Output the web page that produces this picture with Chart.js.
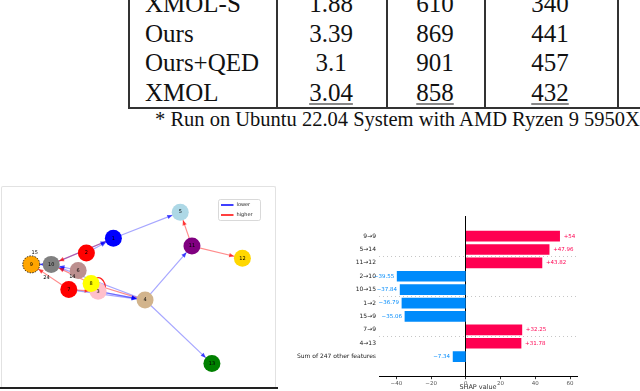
<!DOCTYPE html>
<html>
<head>
<meta charset="utf-8">
<script src="https://cdn.jsdelivr.net/npm/chart.js@4.4.0/dist/chart.umd.min.js"></script>
<style>
  html, body { margin: 0; padding: 0; background: #fff; }
  body { width: 640px; height: 391px; overflow: hidden; position: relative; font-family: 'Liberation Serif', 'Times New Roman', serif; color: #111; }
  .vline { position: absolute; top: -20px; height: 129px; width: 1.5px; background: #333; }
  .hline { position: absolute; left: 128px; width: 520px; top: 107px; height: 1.5px; background: #333; }
  .cell { position: absolute; font-size: 25px; line-height: 25px; white-space: nowrap; transform: translateY(-50%); }
  .ctr { transform: translate(-50%, -50%); }
  .ul { text-decoration: underline; text-decoration-thickness: 1px; text-underline-offset: 3px; }
  #note { position: absolute; left: 155px; top: 108px; font-size: 20.5px; white-space: nowrap; }
  #frame { position: absolute; left: 1px; top: 186px; width: 273px; height: 201px; border: 1px solid #e2e2e2; border-bottom: none; border-radius: 2px; }
  #base { position: absolute; left: 0; top: 387px; width: 278px; height: 2px; background: #222; }
  #graph { position: absolute; left: 0; top: 186px; }
  #shap { position: absolute; left: 290px; top: 196px; }
</style>
</head>
<body>
<div id="table"></div>
<div id="note">* Run on Ubuntu 22.04 System with AMD Ryzen 9 5950X</div>
<div id="frame"></div>
<div id="base"></div>
<canvas id="graph" width="276" height="202"></canvas>
<canvas id="shap" width="350" height="195"></canvas>
<script>
// table rows (top of table is cut off in the figure)
const methods = ['XMOL-S', 'Ours', 'Ours+QED', 'XMOL'];
const colTime = ['1.88', '3.39', '3.1', '3.04'];
const colB = ['610', '869', '901', '858'];
const colC = ['340', '441', '457', '432'];
const underlined = [false, false, false, true];

// SHAP bar chart
const featureLabels = ['9→9', '5→14', '11→12', '2→10', '10→15', '1→2', '15→9', '7→9', '4→13', 'Sum of 247 other features'];
const shapValues = [54, 47.96, 43.82, -39.55, -37.84, -36.79, -35.06, 32.25, 31.78, -7.34];
const shapTicks = [-40, -20, 0, 20, 40, 60];
const dottedRows = [2, 5, 8];

// graph: node layout positions
const nodeIds = ['1', '2', '3', '4', '5', '6', '7', '8', '9', '10', '11', '12', '13'];
const nodeX = [-0.21, -0.44, -0.34, 0.06, 0.36, -0.51, -0.59, -0.40, -0.91, -0.74, 0.46, 0.89, 0.63];
const nodeY = [0.56, 0.39, -0.05, -0.15, 0.86, 0.19, -0.03, 0.04, 0.26, 0.26, 0.47, 0.33, -0.88];
const nodeColors = ['blue', 'red', 'pink', 'tan', 'lightblue', 'rosybrown', 'red', 'yellow', 'orange', 'gray', 'purple', 'gold', 'green'];
const textIds = ['15', '24', '14'];
const textX = [-0.88, -0.78, -0.56];
const textY = [0.39, 0.105, 0.116];
const lowerEdges = [[1, 5], [4, 11], [4, 13], [2, 1], [10, 1], [6, 10], [10, 9], [3, 4], [3, 4], [7, 4], [4, 10], [8, 3]];
const higherEdges = [[11, 5], [11, 12], [1, 10], [7, 9], [4, 8], [8, 8], [8, 10], [7, 3]];

// ---- table ----
(() => {
  const t = document.getElementById('table');
  [128, 276, 386, 484, 617].forEach(x => {
    const d = document.createElement('div');
    d.className = 'vline';
    d.style.left = x + 'px';
    t.appendChild(d);
  });
  const h = document.createElement('div');
  h.className = 'hline';
  t.appendChild(h);
  const rowY = [3, 32.5, 62, 91.5];
  const centers = [331, 435, 550];
  methods.forEach((m, i) => {
    const a = document.createElement('div');
    a.className = 'cell';
    a.style.left = '145px';
    a.style.top = rowY[i] + 'px';
    a.textContent = m;
    t.appendChild(a);
    [colTime[i], colB[i], colC[i]].forEach((v, j) => {
      const c = document.createElement('div');
      c.className = 'cell ctr' + (underlined[i] ? ' ul' : '');
      c.style.left = centers[j] + 'px';
      c.style.top = rowY[i] + 'px';
      c.textContent = v;
      t.appendChild(c);
    });
  });
})();

Chart.defaults.font.family = "'DejaVu Sans', sans-serif";

// ---- graph ----
const R = 8.5;
const nodeRGB = { lower: '0,0,255', higher: '255,0,0' };

const arrowPlugin = {
  id: 'arrows',
  beforeDatasetDraw(chart, args) {
    if (args.index !== 0) return;
    const { ctx, scales: { x, y } } = chart;
    ctx.save();
    const run = (edges, rgb) => {
      edges.forEach(([a, b]) => {
        const x1 = x.getPixelForValue(nodeX[a - 1]), y1 = y.getPixelForValue(nodeY[a - 1]);
        const x2 = x.getPixelForValue(nodeX[b - 1]), y2 = y.getPixelForValue(nodeY[b - 1]);
        if (a === b) {
          ctx.strokeStyle = 'rgba(' + rgb + ',0.85)';
          ctx.lineWidth = 1.3;
          ctx.beginPath();
          ctx.ellipse(x1 + 8, y1 + 2, 6, 8, -0.3, 0, Math.PI * 2);
          ctx.stroke();
          return;
        }
        const ang = Math.atan2(y2 - y1, x2 - x1);
        const tx = x2 - Math.cos(ang) * R, ty = y2 - Math.sin(ang) * R;
        const L = 5, W = 2.2;
        ctx.fillStyle = 'rgba(' + rgb + ',0.7)';
        ctx.beginPath();
        ctx.moveTo(tx, ty);
        ctx.lineTo(tx - L * Math.cos(ang) + W * Math.sin(ang), ty - L * Math.sin(ang) - W * Math.cos(ang));
        ctx.lineTo(tx - L * Math.cos(ang) - W * Math.sin(ang), ty - L * Math.sin(ang) + W * Math.cos(ang));
        ctx.closePath();
        ctx.fill();
      });
    };
    run(lowerEdges, nodeRGB.lower);
    run(higherEdges, nodeRGB.higher);
    ctx.restore();
  },
  afterDatasetsDraw(chart) {
    const { ctx, scales: { x, y } } = chart;
    ctx.save();
    ctx.font = "5px 'DejaVu Sans'";
    ctx.textAlign = 'center';
    ctx.textBaseline = 'middle';
    ctx.fillStyle = '#000';
    nodeIds.forEach((id, i) => {
      const px = x.getPixelForValue(nodeX[i]), py = y.getPixelForValue(nodeY[i]);
      ctx.fillText(id, px, py);
      if (id === '9') {
        ctx.setLineDash([1.5, 1.2]);
        ctx.strokeStyle = '#000';
        ctx.lineWidth = 0.8;
        ctx.beginPath();
        ctx.arc(px, py, R, 0, Math.PI * 2);
        ctx.stroke();
        ctx.setLineDash([]);
      }
    });
    textIds.forEach((id, i) => {
      ctx.fillText(id, x.getPixelForValue(textX[i]), y.getPixelForValue(textY[i]));
    });
    // legend box
    const lx = chart.chartArea.right - 49, ly = chart.chartArea.top + 5;
    ctx.fillStyle = 'rgba(255,255,255,0.85)';
    ctx.strokeStyle = '#cfcfcf';
    ctx.lineWidth = 0.8;
    ctx.beginPath();
    ctx.roundRect(lx, ly, 42, 21, 2);
    ctx.fill();
    ctx.stroke();
    [['lower', '#0000ff'], ['higher', '#ff0000']].forEach(([t, c], k) => {
      const yy = ly + 5.5 + k * 10;
      ctx.strokeStyle = c;
      ctx.lineWidth = 1.5;
      ctx.beginPath();
      ctx.moveTo(lx + 2.5, yy);
      ctx.lineTo(lx + 15, yy);
      ctx.stroke();
      ctx.fillStyle = '#222';
      ctx.textAlign = 'left';
      ctx.fillText(t, lx + 18, yy);
    });
    ctx.restore();
  }
};

const edgeSet = (edges, label, rgb) => edges.filter(([a, b]) => a !== b).map(([a, b]) => ({
  type: 'scatter',
  label,
  data: [{ x: nodeX[a - 1], y: nodeY[a - 1] }, { x: nodeX[b - 1], y: nodeY[b - 1] }],
  showLine: true,
  borderColor: 'rgba(' + rgb + ',' + (label === 'lower' ? 0.35 : 0.45) + ')',
  borderWidth: 1.2,
  pointRadius: 0
}));

new Chart(document.getElementById('graph'), {
  type: 'scatter',
  data: {
    datasets: [
      {
        label: 'nodes',
        data: nodeX.map((v, i) => ({ x: v, y: nodeY[i] })),
        pointRadius: R,
        pointBackgroundColor: nodeColors,
        pointBorderWidth: 0
      },
      {
        label: 'text',
        data: textX.map((v, i) => ({ x: v, y: textY[i] })),
        pointRadius: 0
      },
      ...edgeSet(lowerEdges, 'lower', nodeRGB.lower),
      ...edgeSet(higherEdges, 'higher', nodeRGB.higher)
    ]
  },
  options: {
    responsive: false,
    animation: false,
    layout: { padding: 0 },
    plugins: { legend: { display: false }, tooltip: { enabled: false } },
    scales: {
      x: { type: 'linear', min: -1.104, max: 1.104, display: false },
      y: { type: 'linear', min: -1.063, max: 1.063, display: false }
    }
  },
  plugins: [arrowPlugin]
});

// ---- SHAP bars ----
const valueLabels = {
  id: 'valueLabels',
  afterDatasetsDraw(chart) {
    const { ctx } = chart;
    const meta = chart.getDatasetMeta(0);
    ctx.save();
    ctx.font = "5.5px 'DejaVu Sans'";
    ctx.textBaseline = 'middle';
    meta.data.forEach((bar, i) => {
      const v = shapValues[i];
      const txt = (v >= 0 ? '+' : '−') + Math.abs(v);
      if (v >= 0) {
        ctx.fillStyle = '#ff0051';
        ctx.textAlign = 'left';
        ctx.fillText(txt, bar.x + 4, bar.y);
      } else {
        ctx.fillStyle = '#008bfb';
        ctx.textAlign = 'right';
        ctx.fillText(txt, bar.x - 3, bar.y);
      }
    });
    ctx.restore();
  }
};

new Chart(document.getElementById('shap'), {
  type: 'bar',
  data: {
    datasets: [{
      data: shapValues.map((v, i) => ({ x: v, y: i })),
      backgroundColor: shapValues.map(v => (v >= 0 ? '#ff0051' : '#008bfb')),
      borderWidth: 0,
      barThickness: 10
    }]
  },
  options: {
    indexAxis: 'y',
    responsive: false,
    animation: false,
    layout: { padding: { top: 20, right: 63, left: 0, bottom: 0 } },
    plugins: { legend: { display: false }, tooltip: { enabled: false } },
    scales: {
      x: {
        type: 'linear',
        min: -50,
        max: 64,
        afterBuildTicks: a => { a.ticks = shapTicks.map(v => ({ value: v })); },
        ticks: {
          font: { size: 5.5 },
          color: '#555',
          padding: 1,
          callback: v => (v < 0 ? '−' + Math.abs(v) : String(v))
        },
        grid: {
          color: c => (c.tick && c.tick.value === 0 ? '#000' : 'rgba(0,0,0,0)'),
          lineWidth: 1,
          tickColor: '#333',
          tickLength: 2.5
        },
        border: { color: '#000', width: 1 },
        title: { display: true, text: 'SHAP value', font: { size: 6.5 }, color: '#333', padding: 0 },
        afterFit: a => { a.height = 14.3; }
      },
      y: {
        type: 'linear',
        reverse: true,
        min: -0.9,
        max: 9.9,
        afterBuildTicks: a => { a.ticks = featureLabels.map((_, i) => ({ value: i })); },
        ticks: {
          autoSkip: false,
          font: { size: 6 },
          color: '#222',
          padding: 3,
          callback: v => featureLabels[v]
        },
        grid: {
          color: c => (c.tick && dottedRows.includes(c.tick.value) ? '#b8b8b8' : 'rgba(0,0,0,0)'),
          lineWidth: 0.8,
          drawTicks: false
        },
        border: { display: false, dash: [1, 3] },
        afterFit: a => { a.width = 89; }
      }
    }
  },
  plugins: [valueLabels]
});
</script>
</body>
</html>
